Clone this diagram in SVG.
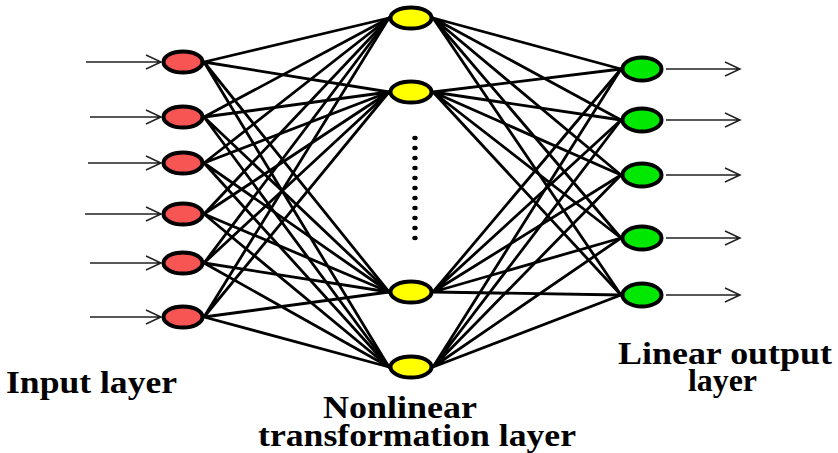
<svg xmlns="http://www.w3.org/2000/svg" width="838" height="453" viewBox="0 0 838 453">
  <defs>
    <style>
      .link { stroke: #000; stroke-width: 2.8; fill: none; stroke-linecap: round; }
      .arrow { stroke: #222; stroke-width: 1.5; fill: none; }
      .node { stroke: #000; stroke-width: 4; }
      .in { fill: #f75454; }
      .hid { fill: #ffff00; }
      .out { fill: #00e800; }
      .label { font-family: "Liberation Serif", "Times New Roman", serif; font-weight: bold; font-size: 32px; fill: #000; }
      .dot { fill: #000; }
    </style>
  </defs>
  <rect width="838" height="453" fill="#fff"/>

  <!-- input arrows -->
  <g id="input-arrows" class="arrow">
    <path d="M86 62H161M146 55L161 62L146 69"/>
    <path d="M90 117H161M146 110L161 117L146 124"/>
    <path d="M88 163H161M146 156L161 163L146 170"/>
    <path d="M85 214H161M146 207L161 214L146 221"/>
    <path d="M90 263H161M146 256L161 263L146 270"/>
    <path d="M90 317H161M146 310L161 317L146 324"/>
  </g>

  <!-- connectors: input to hidden, hidden to output -->
  <g id="connectors" class="link">
    <path d="M204 62L389 18M204 62L389 92M204 62L389 292M204 62L389 367"/>
    <path d="M204 117L389 18M204 117L389 92M204 117L389 292M204 117L389 367"/>
    <path d="M204 163L389 18M204 163L389 92M204 163L389 292M204 163L389 367"/>
    <path d="M204 214L389 18M204 214L389 92M204 214L389 292M204 214L389 367"/>
    <path d="M204 263L389 18M204 263L389 92M204 263L389 292M204 263L389 367"/>
    <path d="M204 317L389 18M204 317L389 92M204 317L389 292M204 317L389 367"/>
    <path d="M433 18L621 69M433 18L621 120M433 18L621 175M433 18L621 238M433 18L621 295"/>
    <path d="M433 92L621 69M433 92L621 120M433 92L621 175M433 92L621 238M433 92L621 295"/>
    <path d="M433 292L621 69M433 292L621 120M433 292L621 175M433 292L621 238M433 292L621 295"/>
    <path d="M433 367L621 69M433 367L621 120M433 367L621 175M433 367L621 238M433 367L621 295"/>
  </g>

  <!-- output arrows -->
  <g id="output-arrows" class="arrow">
    <path d="M666 69H740M725 62L740 69L725 76"/>
    <path d="M666 120H740M725 113L740 120L725 127"/>
    <path d="M666 175H740M725 168L740 175L725 182"/>
    <path d="M666 238H740M725 231L740 238L725 245"/>
    <path d="M666 295H740M725 288L740 295L725 302"/>
  </g>

  <!-- input layer -->
  <g id="in1"><ellipse class="node in" cx="183" cy="62" rx="19.5" ry="10.5"/></g>
  <g id="in2"><ellipse class="node in" cx="183" cy="117" rx="19.5" ry="10.5"/></g>
  <g id="in3"><ellipse class="node in" cx="183" cy="163" rx="19.5" ry="10.5"/></g>
  <g id="in4"><ellipse class="node in" cx="183" cy="214" rx="19.5" ry="10.5"/></g>
  <g id="in5"><ellipse class="node in" cx="183" cy="263" rx="19.5" ry="10.5"/></g>
  <g id="in6"><ellipse class="node in" cx="183" cy="317" rx="19.5" ry="10.5"/></g>

  <!-- hidden layer -->
  <g id="h1"><ellipse class="node hid" cx="411" cy="18" rx="20.5" ry="10.5"/></g>
  <g id="h2"><ellipse class="node hid" cx="411" cy="92" rx="20.5" ry="10.5"/></g>
  <g id="h3"><ellipse class="node hid" cx="411" cy="292" rx="20.5" ry="10.5"/></g>
  <g id="h4"><ellipse class="node hid" cx="411" cy="367" rx="20.5" ry="10.5"/></g>

  <!-- vertical ellipsis between hidden units -->
  <g id="ellipsis" class="dot">
    <ellipse cx="415" cy="138" rx="2.7" ry="2.2"/>
    <ellipse cx="415" cy="148" rx="2.7" ry="2.2"/>
    <ellipse cx="415" cy="158" rx="2.7" ry="2.2"/>
    <ellipse cx="415" cy="168" rx="2.7" ry="2.2"/>
    <ellipse cx="415" cy="178" rx="2.7" ry="2.2"/>
    <ellipse cx="415" cy="188" rx="2.7" ry="2.2"/>
    <ellipse cx="415" cy="198" rx="2.7" ry="2.2"/>
    <ellipse cx="415" cy="208" rx="2.7" ry="2.2"/>
    <ellipse cx="415" cy="218" rx="2.7" ry="2.2"/>
    <ellipse cx="415" cy="228" rx="2.7" ry="2.2"/>
    <ellipse cx="415" cy="238" rx="2.7" ry="2.2"/>
  </g>

  <!-- output layer -->
  <g id="o1"><ellipse class="node out" cx="642" cy="69" rx="19.5" ry="11.5"/></g>
  <g id="o2"><ellipse class="node out" cx="642" cy="120" rx="19.5" ry="11.5"/></g>
  <g id="o3"><ellipse class="node out" cx="642" cy="175" rx="19.5" ry="11.5"/></g>
  <g id="o4"><ellipse class="node out" cx="642" cy="238" rx="19.5" ry="11.5"/></g>
  <g id="o5"><ellipse class="node out" cx="642" cy="295" rx="19.5" ry="11.5"/></g>

  <!-- layer captions -->
  <g id="labels" class="label">
    <text x="6" y="393" textLength="171" lengthAdjust="spacingAndGlyphs">Input layer</text>
    <text x="323" y="418" textLength="154" lengthAdjust="spacingAndGlyphs">Nonlinear</text>
    <text x="258" y="446" textLength="318" lengthAdjust="spacingAndGlyphs">transformation layer</text>
    <text x="618" y="364" textLength="214" lengthAdjust="spacingAndGlyphs">Linear output</text>
    <text x="688" y="391" textLength="69" lengthAdjust="spacingAndGlyphs">layer</text>
  </g>
</svg>
